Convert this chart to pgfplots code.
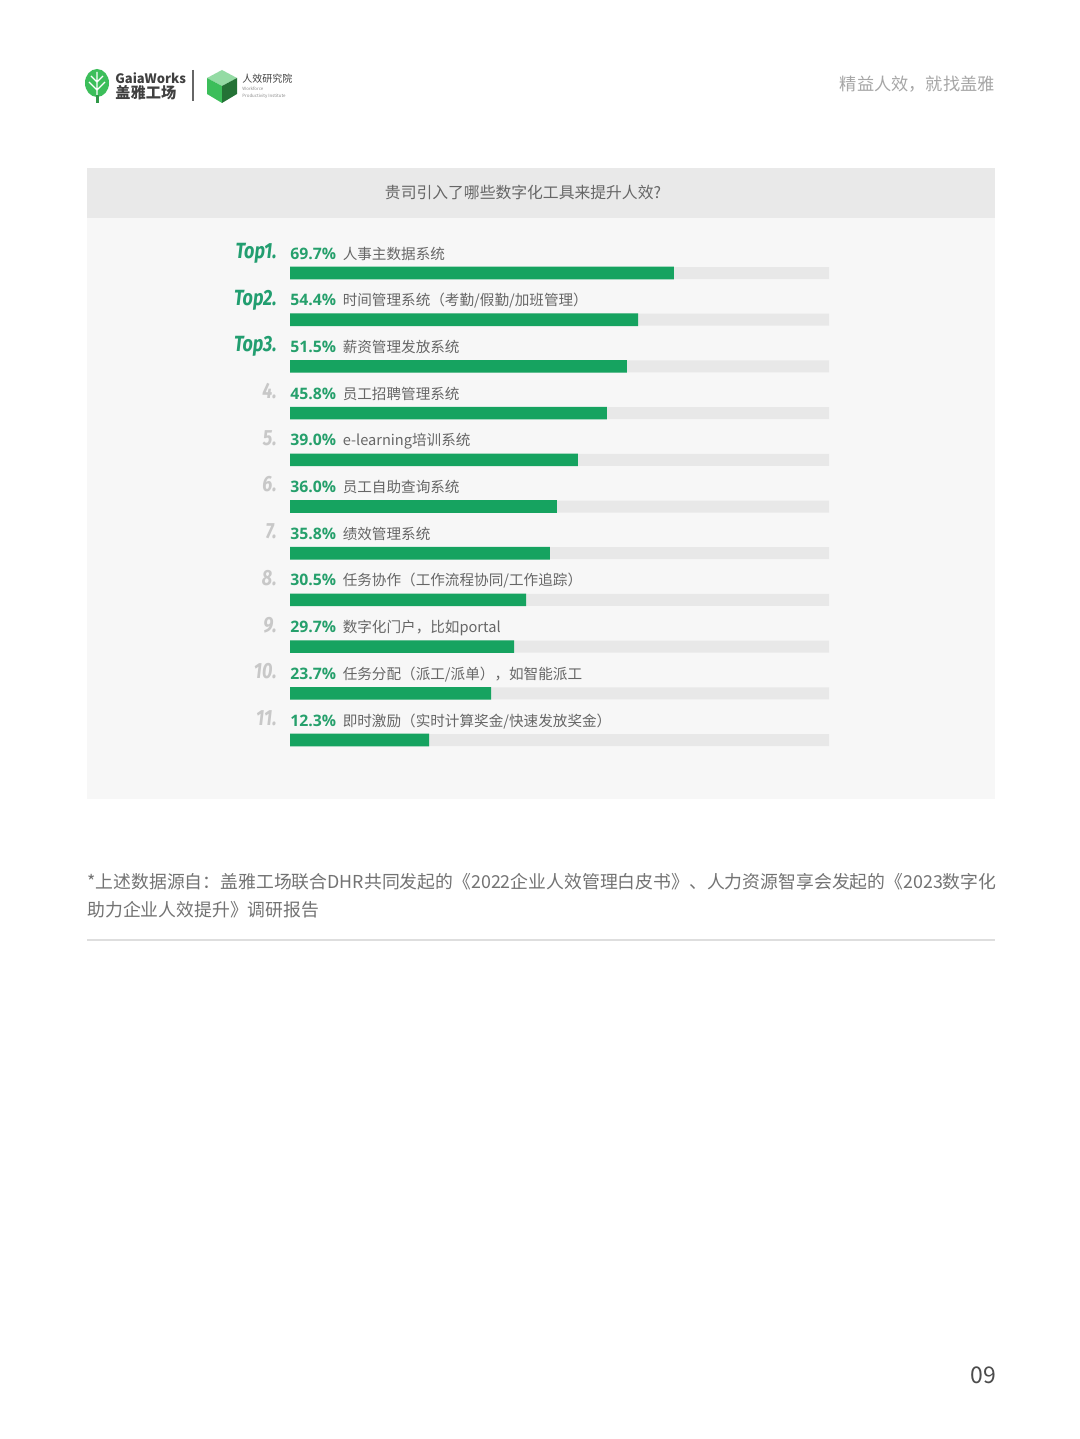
\documentclass[border=0pt]{standalone}
\usepackage{fontspec}
\setmainfont{Noto Sans CJK SC}
\newfontfamily\numfont{Open Sans}
\newfontfamily\rankfont[FakeStretch=0.82]{Fira Sans}
\usepackage{pgfplots}
\usepackage{pgfplotstable}
\pgfplotsset{compat=1.18}

\definecolor{barg}{RGB}{22,163,96}
\definecolor{pctg}{RGB}{38,160,108}
\definecolor{rankg}{RGB}{34,158,112}
\definecolor{rankgray}{RGB}{200,200,200}
\definecolor{track}{RGB}{232,232,232}
\definecolor{band}{RGB}{233,233,233}
\definecolor{body}{RGB}{247,247,247}
\definecolor{txtg}{RGB}{102,102,102}
\definecolor{logog}{RGB}{60,190,90}

% bar lengths as drawn, in percent of the grey track
\pgfplotstableread{
rank drawn
1  71.2
2  64.6
3  62.5
4  58.8
5  53.4
6  49.5
7  48.2
8  43.8
9  41.6
10 37.3
11 25.8
}\bars

\newcommand{\pct}[1]{{\numfont\fontsize{7.9}{9}\selectfont\bfseries\color{pctg}#1}\hspace{3.3pt}}
\newcommand{\tp}[1]{{\color{rankg}#1}}
\newcommand{\rg}[1]{{\color{rankgray}#1}}

\begin{document}
\begin{tikzpicture}
\begin{scope}[x=0.5pt,y=-0.5pt]
  % page
  \fill[white] (0,0) rectangle (1080,1439);
  % header: logos
  \fill[logog] (97,83) ellipse [x radius=12, y radius=14];
  \draw[white, line width=0.6pt] (97,96) -- (97,72) (97,90) -- (89,82) (97,90) -- (105,82) (97,82) -- (91,76) (97,82) -- (103,76);
  \fill[logog!80!black] (95.5,95) rectangle (98.5,103);
  \node[anchor=west, inner sep=0, text=black!75, font=\fontsize{6.5}{7}\selectfont\bfseries] at (115,78) {GaiaWorks};
  \node[anchor=west, inner sep=0, text=black!75, font=\fontsize{7.6}{8}\selectfont\bfseries] at (115,93) {盖雅工场};
  \draw[black!60, line width=0.6pt] (193,70) -- (193,101);
  \fill[logog!55!white] (207,78) -- (222,70) -- (237,78) -- (222,86) -- cycle;
  \fill[logog] (207,78) -- (222,86) -- (222,103) -- (207,94) -- cycle;
  \fill[logog!60!black] (222,86) -- (237,78) -- (237,94) -- (222,103) -- cycle;
  \node[anchor=west, inner sep=0, text=black!75, font=\fontsize{5}{6}\selectfont] at (242,79) {人效研究院};
  \node[anchor=west, inner sep=0, text=black!45, font=\fontsize{2.2}{2.6}\selectfont] at (242,89) {Workforce};
  \node[anchor=west, inner sep=0, text=black!45, font=\fontsize{2.2}{2.6}\selectfont] at (242,96) {Productivity Institute};
  \node[anchor=east, inner sep=0, text=black!35, font=\fontsize{8.6}{9}\selectfont] at (995,84) {精益人效，就找盖雅};
  % chart panel
  \fill[body] (87,218) rectangle (995,799);
  \fill[band] (87,168) rectangle (995,218);
  \node[text=txtg, inner sep=0, font=\fontsize{7.9}{9}\selectfont] at (523,192) {贵司引入了哪些数字化工具来提升人效?};
  % footnote
  \node[anchor=west, inner sep=0, text=black!55, font=\fontsize{8.92}{10}\selectfont] at (87,882) {*上述数据源自：盖雅工场联合DHR共同发起的《2022企业人效管理白皮书》、人力资源智享会发起的《2023数字化};
  \node[anchor=west, inner sep=0, text=black!55, font=\fontsize{8.92}{10}\selectfont] at (87,910) {助力企业人效提升》调研报告};
  \draw[black!13, line width=1pt] (87,940) -- (995,940);
  \node[text=black!70, inner sep=0, font=\fontsize{11.5}{12}\selectfont] at (983,1375) {09};
\end{scope}

\begin{axis}[
  at={(279.75pt,-253.25pt)}, anchor=center,
  scale only axis,
  width=269.5pt, height=256.85pt,
  xbar, bar width=6pt,
  xmin=0, xmax=100,
  ymin=0.5, ymax=11.5,
  y dir=reverse,
  axis line style={draw=none},
  major tick length=0pt,
  clip=false,
  ytick={1,...,11},
  yticklabels={\tp{Top1.},\tp{Top2.},\tp{Top3.},\rg{4.},\rg{5.},\rg{6.},\rg{7.},\rg{8.},\rg{9.},\rg{10.},\rg{11.}},
  yticklabel style={anchor=base east, inner sep=0pt, xshift=-6.5pt, yshift=7.3pt,
    font=\rankfont\fontsize{11}{12}\selectfont\bfseries\itshape},
  xtick=\empty,
]
\addplot[fill=track, draw=none, bar shift=0pt, bar width=6pt]
  table[x expr=100, y=rank] {\bars};
\addplot[fill=barg, draw=none, bar shift=0pt, bar width=6.3pt]
  table[x=drawn, y=rank] {\bars};
\addplot[draw=none, fill=none, bar shift=0pt, bar width=0pt,
  nodes near coords, point meta=explicit symbolic,
  nodes near coords style={anchor=base west, inner sep=0pt, xshift=0pt, yshift=7pt,
    text=txtg, font=\fontsize{7.3}{8}\selectfont}]
  coordinates {
    (0,1)  [{\pct{69.7\%}人事主数据系统}]
    (0,2)  [{\pct{54.4\%}时间管理系统（考勤/假勤/加班管理）}]
    (0,3)  [{\pct{51.5\%}薪资管理发放系统}]
    (0,4)  [{\pct{45.8\%}员工招聘管理系统}]
    (0,5)  [{\pct{39.0\%}e-learning培训系统}]
    (0,6)  [{\pct{36.0\%}员工自助查询系统}]
    (0,7)  [{\pct{35.8\%}绩效管理系统}]
    (0,8)  [{\pct{30.5\%}任务协作（工作流程协同/工作追踪）}]
    (0,9)  [{\pct{29.7\%}数字化门户，比如portal}]
    (0,10) [{\pct{23.7\%}任务分配（派工/派单），如智能派工}]
    (0,11) [{\pct{12.3\%}即时激励（实时计算奖金/快速发放奖金）}]
  };
\end{axis}
\end{tikzpicture}
\end{document}
